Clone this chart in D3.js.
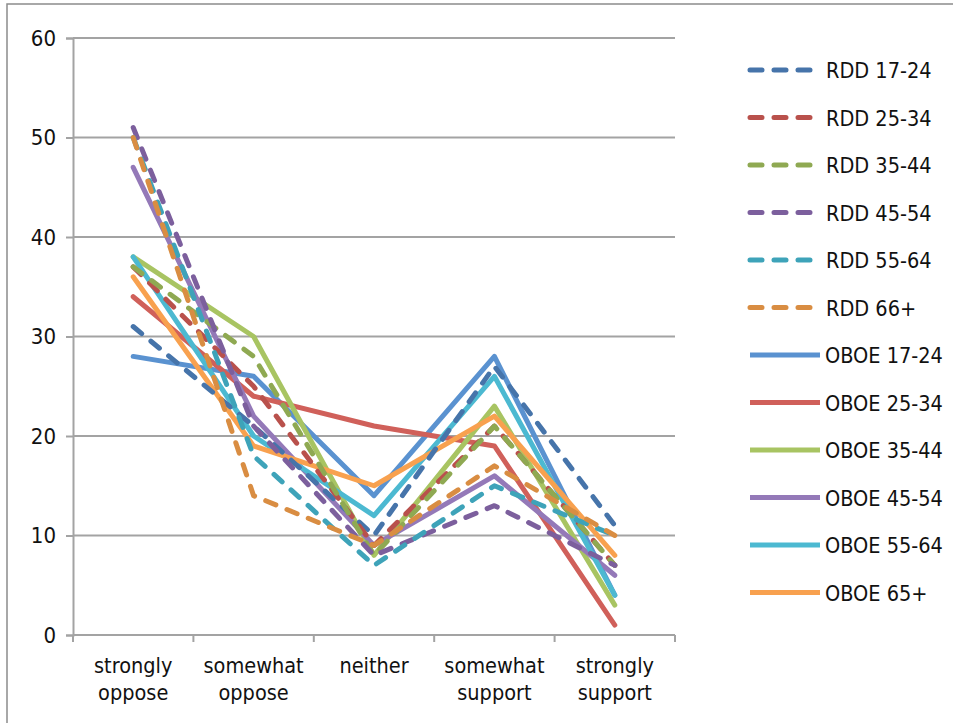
<!DOCTYPE html>
<html>
<head>
<meta charset="utf-8">
<script src="https://cdn.jsdelivr.net/npm/d3@7"></script>
<style>
  body { margin: 0; background: #fff; }
  text { font-family: "DejaVu Sans Condensed", "DejaVu Sans", sans-serif; fill: #111; }
</style>
</head>
<body>
<div id="chart"></div>
<script>
// categories + tick labels
var categories = ["strongly oppose", "somewhat oppose", "neither", "somewhat support", "strongly support"];
var yTicks = [0, 10, 20, 30, 40, 50, 60];

// series names (read top to bottom off the legend)
var seriesNames = ["RDD 17-24", "RDD 25-34", "RDD 35-44", "RDD 45-54", "RDD 55-64", "RDD 66+",
  "OBOE 17-24", "OBOE 25-34", "OBOE 35-44", "OBOE 45-54", "OBOE 55-64", "OBOE 65+"];

// values
var rdd1724 = [31, 21, 10, 27, 11];
var rdd2534 = [37, 25, 9, 21, 7];
var rdd3544 = [37, 28, 8, 21, 7];
var rdd4554 = [51, 21, 8, 13, 7];
var rdd5564 = [50, 18, 7, 15, 10];
var rdd66 = [50, 14, 9, 17, 10];
var oboe1724 = [28, 26, 14, 28, 4];
var oboe2534 = [34, 24, 21, 19, 1];
var oboe3544 = [38, 30, 8, 23, 3];
var oboe4554 = [47, 22, 9, 16, 6];
var oboe5564 = [38, 20, 12, 26, 4];
var oboe65 = [36, 19, 15, 22, 8];

var seriesValues = [rdd1724, rdd2534, rdd3544, rdd4554, rdd5564, rdd66,
  oboe1724, oboe2534, oboe3544, oboe4554, oboe5564, oboe65];

var colors = ["#4674aa", "#b9514c", "#8fa952", "#7c5f9d", "#3ea3b9", "#d98d42",
  "#5a92d0", "#d0605a", "#a8c462", "#9479b8", "#4cb9d1", "#f8a14f"];

var svgWidth = 953, svgHeight = 723;
var margin = { top: 38, left: 73 };
var width = 602;
var height = 597;

var svg = d3.select("#chart").append("svg")
  .attr("width", svgWidth)
  .attr("height", svgHeight);

// outer chart frame
svg.append("rect")
  .attr("x", 7).attr("y", 4)
  .attr("width", 1000).attr("height", 1000)
  .attr("fill", "none")
  .attr("stroke", "#8c8c8c")
  .attr("stroke-width", 1.5);

var chartGroup = svg.append("g")
  .attr("transform", `translate(${margin.left}, ${margin.top})`);

var x = d3.scaleBand().domain(categories).range([0, width]);
var y = d3.scaleLinear().domain([0, 60]).range([height, 0]);

// gridlines
chartGroup.append("g")
  .selectAll("line")
  .data(yTicks.filter(d => d > 0))
  .enter()
  .append("line")
  .attr("x1", 0).attr("x2", width)
  .attr("y1", d => y(d)).attr("y2", d => y(d))
  .attr("stroke", "#a3a3a3")
  .attr("stroke-width", 2);

// y axis
var leftAxis = d3.axisLeft(y).tickValues(yTicks).tickSize(7).tickPadding(10);
var gy = chartGroup.append("g").call(leftAxis);
gy.select(".domain").attr("stroke", "#a3a3a3").attr("stroke-width", 2);
gy.selectAll(".tick line").attr("stroke", "#a3a3a3").attr("stroke-width", 2);
gy.selectAll(".tick text").style("font-size", "22px").attr("fill", "#111");

// x axis: line + ticks at category boundaries
chartGroup.append("line")
  .attr("x1", 0).attr("x2", width)
  .attr("y1", height).attr("y2", height)
  .attr("stroke", "#a3a3a3").attr("stroke-width", 2);

var bounds = categories.map(c => x(c)).concat([width]);
chartGroup.append("g")
  .selectAll("line")
  .data(bounds)
  .enter()
  .append("line")
  .attr("x1", d => d).attr("x2", d => d)
  .attr("y1", height).attr("y2", height + 7)
  .attr("stroke", "#a3a3a3").attr("stroke-width", 2);

var xLabels = chartGroup.append("g")
  .selectAll("text")
  .data(categories)
  .enter()
  .append("text")
  .attr("x", d => x(d) + x.bandwidth() / 2)
  .attr("y", height + 38)
  .attr("text-anchor", "middle")
  .style("font-size", "21.5px");

xLabels.each(function(d) {
  var words = d.split(" ");
  var t = d3.select(this);
  words.forEach(function(w, i) {
    t.append("tspan")
      .attr("x", x(d) + x.bandwidth() / 2)
      .attr("dy", i === 0 ? 0 : 27)
      .text(w);
  });
});

// lines
var line = d3.line()
  .x((d, i) => x(categories[i]) + x.bandwidth() / 2)
  .y(d => y(d));

var order = [6, 7, 8, 9, 10, 11, 0, 1, 2, 3, 4, 5];
chartGroup.append("g")
  .selectAll("path")
  .data(order)
  .enter()
  .append("path")
  .attr("d", i => line(seriesValues[i]))
  .attr("fill", "none")
  .attr("stroke", i => colors[i])
  .attr("stroke-width", 5)
  .attr("stroke-linejoin", "round")
  .attr("stroke-linecap", "round")
  .attr("stroke-dasharray", i => i < 6 ? "11,12" : null);

// legend
var legend = svg.append("g")
  .selectAll("g")
  .data(seriesNames)
  .enter()
  .append("g")
  .attr("transform", (d, i) => `translate(750, ${70 + i * 47.5})`);

legend.append("line")
  .attr("x1", 0)
  .attr("x2", (d, i) => i < 6 ? 66 : 70)
  .attr("y1", 0).attr("y2", 0)
  .attr("stroke", (d, i) => colors[i])
  .attr("stroke-width", 5)
  .attr("stroke-linecap", (d, i) => i < 6 ? "round" : "butt")
  .attr("stroke-dasharray", (d, i) => i < 6 ? "12,12" : null);

legend.append("text")
  .attr("x", (d, i) => i < 6 ? 76 : 75)
  .attr("y", 8)
  .style("font-size", "21.5px")
  .text(d => d);
</script>
</body>
</html>
